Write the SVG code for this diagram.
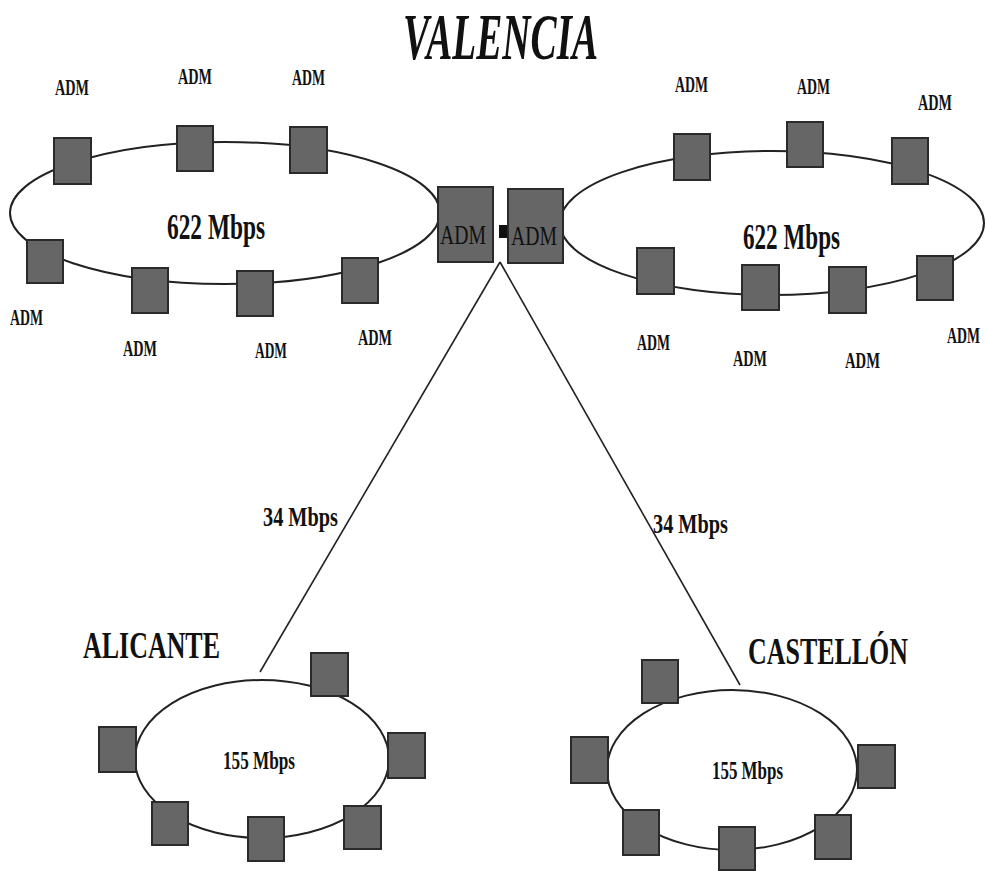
<svg xmlns="http://www.w3.org/2000/svg" width="987" height="871" viewBox="0 0 987 871">
<style>
.ring{fill:none;stroke:#222;stroke-width:2}
.link{stroke:#222;stroke-width:1.6;fill:none}
.box{fill:#666;stroke:#2a2a2a;stroke-width:2}
.lbl{font-family:"Liberation Serif",serif;font-weight:bold;fill:#111;font-size:23px}
.rate{font-family:"Liberation Serif",serif;font-weight:bold;fill:#111}
.city{font-family:"Liberation Serif",serif;font-weight:bold;fill:#111;font-size:38px}
.inner{font-family:"Liberation Serif",serif;fill:#111;font-size:27px}
</style>
<rect width="987" height="871" fill="#fff"/>
<text x="403" y="59" font-family="Liberation Serif,serif" font-weight="bold" font-style="italic" font-size="66" fill="#111" textLength="195" lengthAdjust="spacingAndGlyphs">VALENCIA</text>

<g id="connectors">
<ellipse class="ring" cx="225" cy="213" rx="215" ry="71"/>
<ellipse class="ring" cx="772" cy="223" rx="212" ry="72"/>
<ellipse class="ring" cx="262" cy="759" rx="127" ry="79"/>
<ellipse class="ring" cx="732" cy="770" rx="125" ry="80"/>
<line class="link" x1="500" y1="262" x2="260" y2="672"/>
<line class="link" x1="500" y1="262" x2="740" y2="685"/>
</g>

<g id="valencia-hub">
<rect class="box" x="438" y="187" width="55" height="75"/>
<rect class="box" x="508" y="189" width="55" height="74"/>
<rect x="499" y="225" width="8" height="13" fill="#111"/>
<text class="inner" x="440" y="244" textLength="46" lengthAdjust="spacingAndGlyphs">ADM</text>
<text class="inner" x="511" y="245" textLength="46" lengthAdjust="spacingAndGlyphs">ADM</text>
</g>

<g id="ring-valencia-left">
<rect class="box" x="54" y="138" width="37" height="46"/>
<rect class="box" x="177" y="126" width="36" height="45"/>
<rect class="box" x="290" y="127" width="37" height="46"/>
<rect class="box" x="27" y="240" width="36" height="43"/>
<rect class="box" x="132" y="268" width="36" height="45"/>
<rect class="box" x="237" y="271" width="36" height="45"/>
<rect class="box" x="342" y="258" width="36" height="45"/>
<text class="rate" x="167" y="239" font-size="35" textLength="98" lengthAdjust="spacingAndGlyphs">622 Mbps</text>
<text class="lbl" x="55" y="95" textLength="34" lengthAdjust="spacingAndGlyphs">ADM</text>
<text class="lbl" x="178" y="84" textLength="34" lengthAdjust="spacingAndGlyphs">ADM</text>
<text class="lbl" x="292" y="85" textLength="33" lengthAdjust="spacingAndGlyphs">ADM</text>
<text class="lbl" x="10" y="325" textLength="33" lengthAdjust="spacingAndGlyphs">ADM</text>
<text class="lbl" x="123" y="356" textLength="34" lengthAdjust="spacingAndGlyphs">ADM</text>
<text class="lbl" x="255" y="358" textLength="32" lengthAdjust="spacingAndGlyphs">ADM</text>
<text class="lbl" x="358" y="345" textLength="34" lengthAdjust="spacingAndGlyphs">ADM</text>
</g>

<g id="ring-valencia-right">
<rect class="box" x="674" y="134" width="36" height="46"/>
<rect class="box" x="787" y="122" width="36" height="45"/>
<rect class="box" x="892" y="138" width="36" height="46"/>
<rect class="box" x="917" y="256" width="36" height="44"/>
<rect class="box" x="829" y="267" width="37" height="46"/>
<rect class="box" x="742" y="265" width="37" height="45"/>
<rect class="box" x="637" y="248" width="37" height="46"/>
<text class="rate" x="743" y="249" font-size="35" textLength="97" lengthAdjust="spacingAndGlyphs">622 Mbps</text>
<text class="lbl" x="675" y="92" textLength="33" lengthAdjust="spacingAndGlyphs">ADM</text>
<text class="lbl" x="797" y="94" textLength="33" lengthAdjust="spacingAndGlyphs">ADM</text>
<text class="lbl" x="918" y="110" textLength="34" lengthAdjust="spacingAndGlyphs">ADM</text>
<text class="lbl" transform="translate(947,343) scale(0.6,1)" x="0" y="0">ADM</text>
<text class="lbl" x="637" y="350" textLength="33" lengthAdjust="spacingAndGlyphs">ADM</text>
<text class="lbl" x="733" y="366" textLength="34" lengthAdjust="spacingAndGlyphs">ADM</text>
<text class="lbl" x="845" y="368" textLength="35" lengthAdjust="spacingAndGlyphs">ADM</text>
</g>

<g id="link-labels">
<text class="rate" x="263" y="526" font-size="27" textLength="75" lengthAdjust="spacingAndGlyphs">34 Mbps</text>
<text class="rate" x="653" y="533" font-size="27" textLength="75" lengthAdjust="spacingAndGlyphs">34 Mbps</text>
</g>

<g id="ring-alicante">
<text class="city" x="83" y="658" textLength="137" lengthAdjust="spacingAndGlyphs">ALICANTE</text>
<rect class="box" x="311" y="653" width="37" height="43"/>
<rect class="box" x="99" y="727" width="37" height="45"/>
<rect class="box" x="388" y="733" width="37" height="45"/>
<rect class="box" x="152" y="802" width="36" height="43"/>
<rect class="box" x="248" y="817" width="36" height="44"/>
<rect class="box" x="344" y="806" width="37" height="43"/>
<text class="rate" x="223" y="769" font-size="26" textLength="72" lengthAdjust="spacingAndGlyphs">155 Mbps</text>
</g>

<g id="ring-castellon">
<text class="city" x="748" y="664" textLength="160" lengthAdjust="spacingAndGlyphs">CASTELLÓN</text>
<rect class="box" x="642" y="660" width="36" height="43"/>
<rect class="box" x="571" y="737" width="37" height="46"/>
<rect class="box" x="858" y="745" width="37" height="43"/>
<rect class="box" x="623" y="810" width="36" height="45"/>
<rect class="box" x="719" y="827" width="36" height="43"/>
<rect class="box" x="815" y="815" width="36" height="44"/>
<text class="rate" x="712" y="779" font-size="26" textLength="71" lengthAdjust="spacingAndGlyphs">155 Mbps</text>
</g>
</svg>
